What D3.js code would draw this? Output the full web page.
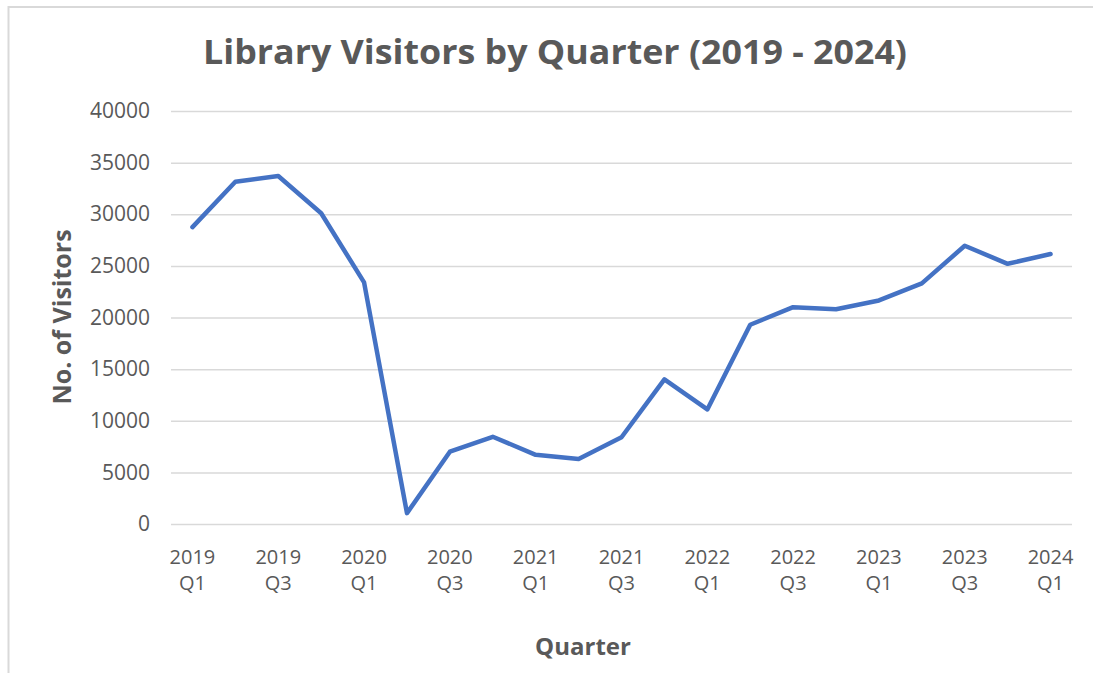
<!DOCTYPE html>
<html>
<head>
<meta charset="utf-8">
<script src="https://cdn.jsdelivr.net/npm/d3@7"></script>
<style>
  body { margin: 0; background: #fff; }
  svg { display: block; font-family: "Open Sans", "Noto Sans", sans-serif; }
</style>
</head>
<body>
<svg id="chart" width="1093" height="673"></svg>
<script>
// quarters, data
var years = ["2019","2019","2019","2019","2020","2020","2020","2020","2021","2021","2021","2021",
             "2022","2022","2022","2022","2023","2023","2023","2023","2024"];
var qtrs = ["Q1","Q2","Q3","Q4","Q1","Q2","Q3","Q4","Q1","Q2","Q3","Q4",
            "Q1","Q2","Q3","Q4","Q1","Q2","Q3","Q4","Q1"];
var visitors = [28750, 33150, 33700, 30100, 23400, 1050, 7000, 8450, 6700, 6300, 8400, 14000,
                11100, 19300, 21000, 20800, 21650, 23300, 26950, 25200, 26150];
var yTicks = [0, 5000, 10000, 15000, 20000, 25000, 30000, 35000, 40000];

var cats = years.map(function(y, i) { return y + " " + qtrs[i]; });

var svg = d3.select("#chart");

// chart border (only top and left show in the frame)
svg.append("rect")
   .attr("x", 8.5).attr("y", 7)
   .attr("width", 1200).attr("height", 800)
   .attr("fill", "none")
   .attr("stroke", "#d9d9d9")
   .attr("stroke-width", 2);

var x = d3.scaleBand().domain(cats).range([171, 1072]);
var y = d3.scaleLinear().domain([0, 40000]).range([524, 111]);

// gridlines + y labels
var yAxis = svg.append("g")
   .attr("transform", "translate(171,0)")
   .call(d3.axisLeft(y).tickValues(yTicks).tickSize(-(1072 - 171)).tickPadding(21).tickFormat(d3.format("d")));
yAxis.attr("font-family", null).attr("font-size", null);
yAxis.select(".domain").remove();
yAxis.selectAll(".tick line").attr("stroke", "#d9d9d9").attr("stroke-width", 1.5);
yAxis.selectAll(".tick text")
     .attr("fill", "#595959")
     .style("font-size", "21px");

// x labels, every second quarter, two lines
var xAxis = svg.append("g");
xAxis.selectAll("text")
   .data(cats.filter(function(d, i) { return i % 2 == 0; }))
   .enter().append("text")
   .attr("x", function(d) { return x(d) + x.bandwidth() / 2; })
   .attr("y", 564)
   .attr("text-anchor", "middle")
   .attr("fill", "#595959")
   .style("font-size", "20px")
   .each(function(d) {
     var parts = d.split(" ");
     d3.select(this).append("tspan")
       .attr("x", x(d) + x.bandwidth() / 2).text(parts[0]);
     d3.select(this).append("tspan")
       .attr("x", x(d) + x.bandwidth() / 2).attr("dy", 26).text(parts[1]);
   });

// the line
var line = d3.line()
   .x(function(d, i) { return x(cats[i]) + x.bandwidth() / 2; })
   .y(function(d) { return y(d); });

svg.append("path")
   .datum(visitors)
   .attr("d", line)
   .attr("fill", "none")
   .attr("stroke", "#4472c4")
   .attr("stroke-width", 4.5)
   .attr("stroke-linejoin", "round")
   .attr("stroke-linecap", "round");

// titles
svg.append("text")
   .attr("x", 555).attr("y", 64)
   .attr("text-anchor", "middle")
   .attr("fill", "#595959")
   .style("font-size", "34px")
   .style("font-weight", "bold")
   .attr("textLength", 704)
   .attr("lengthAdjust", "spacingAndGlyphs")
   .text("Library Visitors by Quarter (2019 - 2024)");

svg.append("text")
   .attr("x", 583).attr("y", 655)
   .attr("text-anchor", "middle")
   .attr("fill", "#595959")
   .style("font-size", "24px")
   .style("font-weight", "bold")
   .text("Quarter");

svg.append("text")
   .attr("transform", "translate(71,317) rotate(-90)")
   .attr("text-anchor", "middle")
   .attr("fill", "#595959")
   .style("font-size", "25px")
   .style("font-weight", "bold")
   .text("No. of Visitors");
</script>
</body>
</html>
